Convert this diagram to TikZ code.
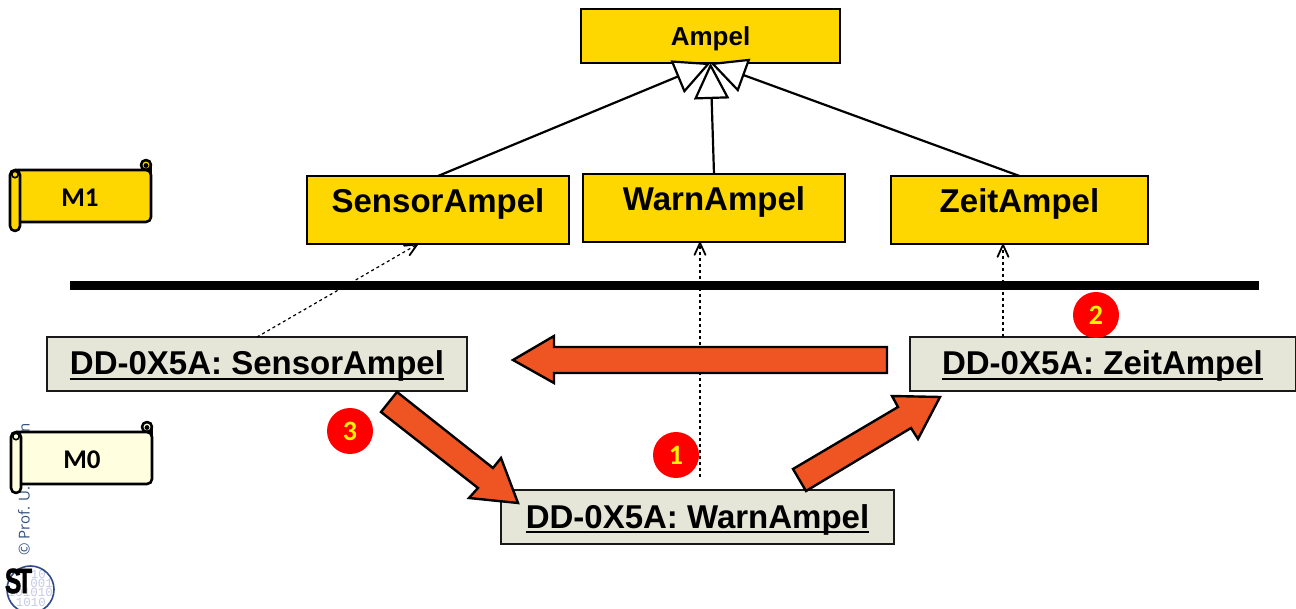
\documentclass[tikz,border=0pt]{standalone}
\usepackage{fontspec}
\setmainfont{Liberation Sans}
\newfontfamily\carl{Carlito}
\newfontfamily\opens{Open Sans}
\newfontfamily\dmono{Liberation Mono}
\newfontfamily\stfont[BoldFeatures={FakeBold=2}]{Liberation Sans}
\usetikzlibrary{arrows.meta,calc}
\definecolor{clsfill}{HTML}{FFD700}
\definecolor{objfill}{HTML}{E6E6D8}
\definecolor{mzero}{HTML}{FFFFE0}
\definecolor{blockred}{HTML}{EE5522}
\definecolor{logoblue}{HTML}{C4CBE8}
\definecolor{logoring}{HTML}{2F4A8C}
\definecolor{copyc}{HTML}{34527F}
\newcommand{\ulbox}[1]{\setbox0\hbox{#1}\raisebox{-11pt}[0pt][0pt]{\rlap{\rule[-5.4pt]{\wd0}{2.6pt}}\box0}}
\newcommand{\fsz}[1]{\fontsize{#1}{#1}\selectfont}
\newcommand{\bl}[2]{\raisebox{#1}[0pt][0pt]{#2}}
\tikzset{
  x=1pt,y=-1pt,
  boxbase/.style={draw=black,line width=2.4pt,inner sep=0pt,outer sep=0pt,font=\bfseries},
  cls/.style={boxbase,fill=clsfill},
  objbox/.style={boxbase,fill=objfill,draw=black!90,line width=2pt,font=\bfseries\fsz{33}},
  inherit/.style={line width=2.2pt,-{Triangle[open,fill=white,length=36pt,width=35pt,line width=2.2pt]}},
  instance/.style={line width=1.2pt,dash pattern=on 3pt off 3pt,-{Straight Barb[length=12pt,width=11pt,line width=1.8pt,round]}},
  block/.style={draw=black,line width=2.4pt,fill=blockred,line join=miter},
  badge/.style={circle,fill=red,minimum size=46pt,inner sep=0pt,text=yellow,font=\carl\bfseries\fsz{28}},
  scrolltext/.style={font=\carl\bfseries\fsz{27},inner sep=0pt},
  scrollline/.style={draw=black,line width=2.6pt,line join=round},
}
\newcommand{\scrollshape}[3]{%
  \begin{scope}[shift={(#1,#2)}]
    \draw[scrollline,fill=#3] (136,-5) circle[radius=5];
    \draw[scrollline,fill=#3,rounded corners=5pt] (5,0) -- (141,0) -- (141,52) -- (5,52);
    \draw[scrollline] (141,-5) -- (141,10);
    \draw[scrollline,fill=#3,rounded corners=5pt] (0,0) rectangle (10,61);
    \draw[draw=black,line width=1.6pt] (5,4.5) circle[radius=3.2];
    \fill[black] (136,-4.5) circle[radius=2.4];
  \end{scope}}
\begin{document}
\begin{tikzpicture}
\useasboundingbox (0,0) rectangle (1296,609);
\fill[white] (0,0) rectangle (1296,609);

% logo and copyright
\begin{scope}
  \clip (0,560) rectangle (60,609);
  \node[text=logoblue,font=\dmono\fsz{12.5},inner sep=0pt,anchor=east] (lg1) at (46,574) {10};
  \node[text=logoblue,font=\dmono\fsz{12.5},inner sep=0pt,anchor=east] (lg2) at (53,583.5) {001};
  \node[text=logoblue,font=\dmono\fsz{12.5},inner sep=0pt,anchor=east] (lg3) at (53,592.5) {101010};
  \node[text=logoblue,font=\dmono\fsz{12.5},inner sep=0pt,anchor=east] (lg4) at (46,602.5) {1010};
  \draw[logoring,line width=1.6pt] (30.5,589.5) circle[radius=23.5];
\end{scope}
\node[font=\stfont\bfseries\fsz{35},inner sep=0pt,text=black] (logost) at (18.5,581) {\scalebox{0.7}[1]{S\kern-6pt T}};
\node[rotate=90,anchor=west,text=copyc,font=\opens\fsz{15},inner sep=0pt] (copy) at (24,556) {© Prof. U. Aßmann};

% scrolls
\scrollshape{10}{170}{clsfill}
\scrollshape{11}{432}{mzero}
\node[scrolltext] (mone) at (80,198) {M1};
\node[scrolltext] (mzerotxt) at (82,460) {M0};

% M1 classes
\node[cls,font=\bfseries\fsz{26},minimum width=259pt,minimum height=54pt] (ampel) at (710.5,36) {\bl{-10pt}{Ampel}};
\node[cls,font=\bfseries\fsz{33},minimum width=262pt,minimum height=68pt] (sensor) at (438,210) {\bl{-2.5pt}{SensorAmpel}};
\node[cls,font=\bfseries\fsz{33},minimum width=262pt,minimum height=68pt] (warn) at (714,208) {\bl{-2.5pt}{WarnAmpel}};
\node[cls,font=\bfseries\fsz{33},minimum width=257pt,minimum height=68pt] (zeit) at (1019.5,210) {\bl{-2.5pt}{ZeitAmpel}};

% M0 objects
\node[objbox,minimum width=420pt,minimum height=54pt] (osensor) at (257,364) {\ulbox{DD-0X5A: SensorAmpel}};
\node[objbox,minimum width=386pt,minimum height=54pt] (ozeit) at (1102.5,364) {\ulbox{DD-0X5A: ZeitAmpel}};
\node[objbox,minimum width=393pt,minimum height=54pt] (owarn) at (697.5,517) {\ulbox{DD-0X5A: WarnAmpel}};

% inheritance
\draw[inherit] (sensor.north) -- (ampel.south);
\draw[inherit] (zeit.north) -- (ampel.south);
\draw[inherit] (warn.north) -- (ampel.south);

% instance-of
\coordinate (warnstart) at ($(owarn.north)+(2.5,-13)$);
\draw[instance] (osensor.north) -- ($(sensor.south)+(-20,0)$);
\draw[instance] (warnstart) -- (warnstart |- warn.south);
\draw[instance] ($(ozeit.north)+(-99.5,0)$) -- ($(zeit.south)+(-16.5,0)$);

% level separator
\coordinate (barl) at (70,285.5);
\coordinate (barr) at (1259,285.5);
\draw[line width=9pt] (barl) -- (barr);

% block arrows
\draw[block] (887,347) -- (554,347) -- (554,336) -- (513,360) -- (554,383) -- (554,373) -- (887,373) -- cycle;
\draw[block] (397,392) -- (493,468) -- (501,458) -- (518,503) -- (469,498) -- (478,488) -- (381,412) -- cycle;
\draw[block] (793,469) -- (898,407) -- (892,396) -- (940,397) -- (918,439) -- (911,428) -- (806,491) -- cycle;

% badges
\node[badge] (b1) at (676,455) {1};
\node[badge] (b2) at (1096,315) {2};
\node[badge] (b3) at (350,431) {3};
\end{tikzpicture}
\end{document}
